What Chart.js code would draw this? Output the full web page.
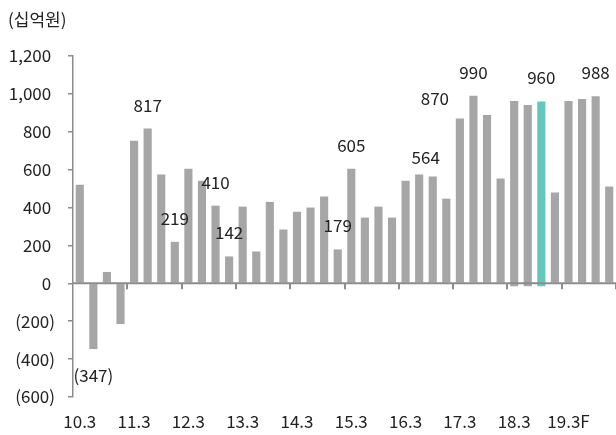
<!DOCTYPE html>
<html>
<head>
<meta charset="utf-8">
<script src="https://cdn.jsdelivr.net/npm/chart.js@4.4.1/dist/chart.umd.min.js"></script>
<style>
  html, body { margin: 0; padding: 0; background: #fff; }
  #wrap { width: 616px; height: 435px; }
</style>
</head>
<body>
<div id="wrap"><canvas id="chart" width="616" height="435"></canvas></div>
<script>
// quarterly, 10.3 .. 19.12 (19.3F onward is forecast)
const quarters = [
  '10.3', '10.6', '10.9', '10.12', '11.3', '11.6', '11.9', '11.12',
  '12.3', '12.6', '12.9', '12.12', '13.3', '13.6', '13.9', '13.12',
  '14.3', '14.6', '14.9', '14.12', '15.3', '15.6', '15.9', '15.12',
  '16.3', '16.6', '16.9', '16.12', '17.3', '17.6', '17.9', '17.12',
  '18.3', '18.6', '18.9', '18.12', '19.3F', '19.6F', '19.9F', '19.12F'
];
const profit = [
  520, -347, 60, -215, 752, 817, 575, 219,
  605, 542, 410, 142, 405, 168, 430, 284,
  378, 400, 458, 179, 605, 347, 405, 347,
  542, 575, 564, 447, 870, 990, 889, 553,
  963, 942, 960, 479, 963, 973, 988, 511
];
// the three 18.x bars start slightly under the zero line
const dipBars = [32, 33, 34];
const dipLow = -15;
const highlight = 34;           // 18.9 in teal
const labelled = [1, 5, 7, 10, 11, 19, 20, 26, 28, 29, 34, 38];

const FONT = '"Noto Sans CJK KR", "Noto Sans", sans-serif';
const GRAY = '#a6a6a6';
const TEAL = '#66c8bc';
const AXIS = '#8c8c8c';
const TEXT = '#222';

const fmt = (v) => {
  const s = Math.abs(v).toLocaleString('en-US');
  return v < 0 ? '(' + s + ')' : s + ' ';
};

// nudges for a few callouts that sit off-centre in the original
const nudge = { 26: [-7, 5], 28: [-25, 4] };

const decor = {
  id: 'decor',
  afterDatasetsDraw(chart) {
    const { ctx, chartArea: a, scales: { x, y } } = chart;
    const y0 = y.getPixelForValue(0);
    const step = x.getPixelForValue(1) - x.getPixelForValue(0);
    ctx.save();
    // zero line + quarter ticks every 4 bars
    ctx.strokeStyle = AXIS;
    ctx.lineWidth = 2;
    ctx.beginPath();
    ctx.moveTo(a.left, y0);
    ctx.lineTo(a.right, y0);
    for (let i = 4; i <= quarters.length; i += 4) {
      const px = Math.round(x.getPixelForValue(i - 1) + step / 2);
      ctx.moveTo(px, y0);
      ctx.lineTo(px, y0 + 6);
    }
    ctx.stroke();

    // value callouts
    const meta = chart.getDatasetMeta(0);
    ctx.font = '17px ' + FONT;
    ctx.fillStyle = TEXT;
    ctx.textAlign = 'center';
    ctx.textBaseline = 'middle';
    labelled.forEach((i) => {
      const bar = meta.data[i];
      const v = profit[i];
      const [dx, dy] = nudge[i] || [0, 0];
      const py = v < 0 ? y.getPixelForValue(v) + 26 : y.getPixelForValue(v) - 23.5;
      ctx.fillText(v < 0 ? fmt(v) : String(v), bar.x + dx, py + dy);
    });

    // unit
    ctx.textAlign = 'left';
    ctx.fillText('(십억원)', 8, 20);
    ctx.restore();
  }
};

new Chart(document.getElementById('chart'), {
  type: 'bar',
  data: {
    labels: quarters,
    datasets: [{
      data: profit.map((v, i) => (dipBars.includes(i) ? [dipLow, v] : v)),
      backgroundColor: profit.map((v, i) => (i === highlight ? TEAL : GRAY)),
      borderWidth: 0,
      barPercentage: 0.6,
      categoryPercentage: 1,
    }],
  },
  options: {
    responsive: false,
    animation: false,
    devicePixelRatio: 1,
    layout: { padding: { top: 56, right: 0, bottom: 0, left: 0 } },
    plugins: { legend: { display: false }, tooltip: { enabled: false } },
    scales: {
      x: {
        grid: { display: false },
        border: { display: false },
        ticks: {
          autoSkip: false, maxRotation: 0, padding: 6, color: TEXT,
          font: { family: FONT, size: 17 },
          callback: (v, i) => (i % 4 === 0 ? quarters[i] : ''),
        },
        afterFit: (s) => { s.height = 38; s.paddingLeft = 0; s.paddingRight = 0; },
      },
      y: {
        min: -600, max: 1200,
        grid: { drawOnChartArea: false, drawTicks: true, tickLength: 5, color: AXIS, lineWidth: 1.5 },
        border: { display: true, color: AXIS, width: 1.5 },
        ticks: {
          stepSize: 200, padding: 13, color: TEXT,
          font: { family: FONT, size: 17 },
          callback: (v) => fmt(v),
        },
        afterFit: (s) => { s.width = 73; },
      },
    },
  },
  plugins: [decor],
});
</script>
</body>
</html>
